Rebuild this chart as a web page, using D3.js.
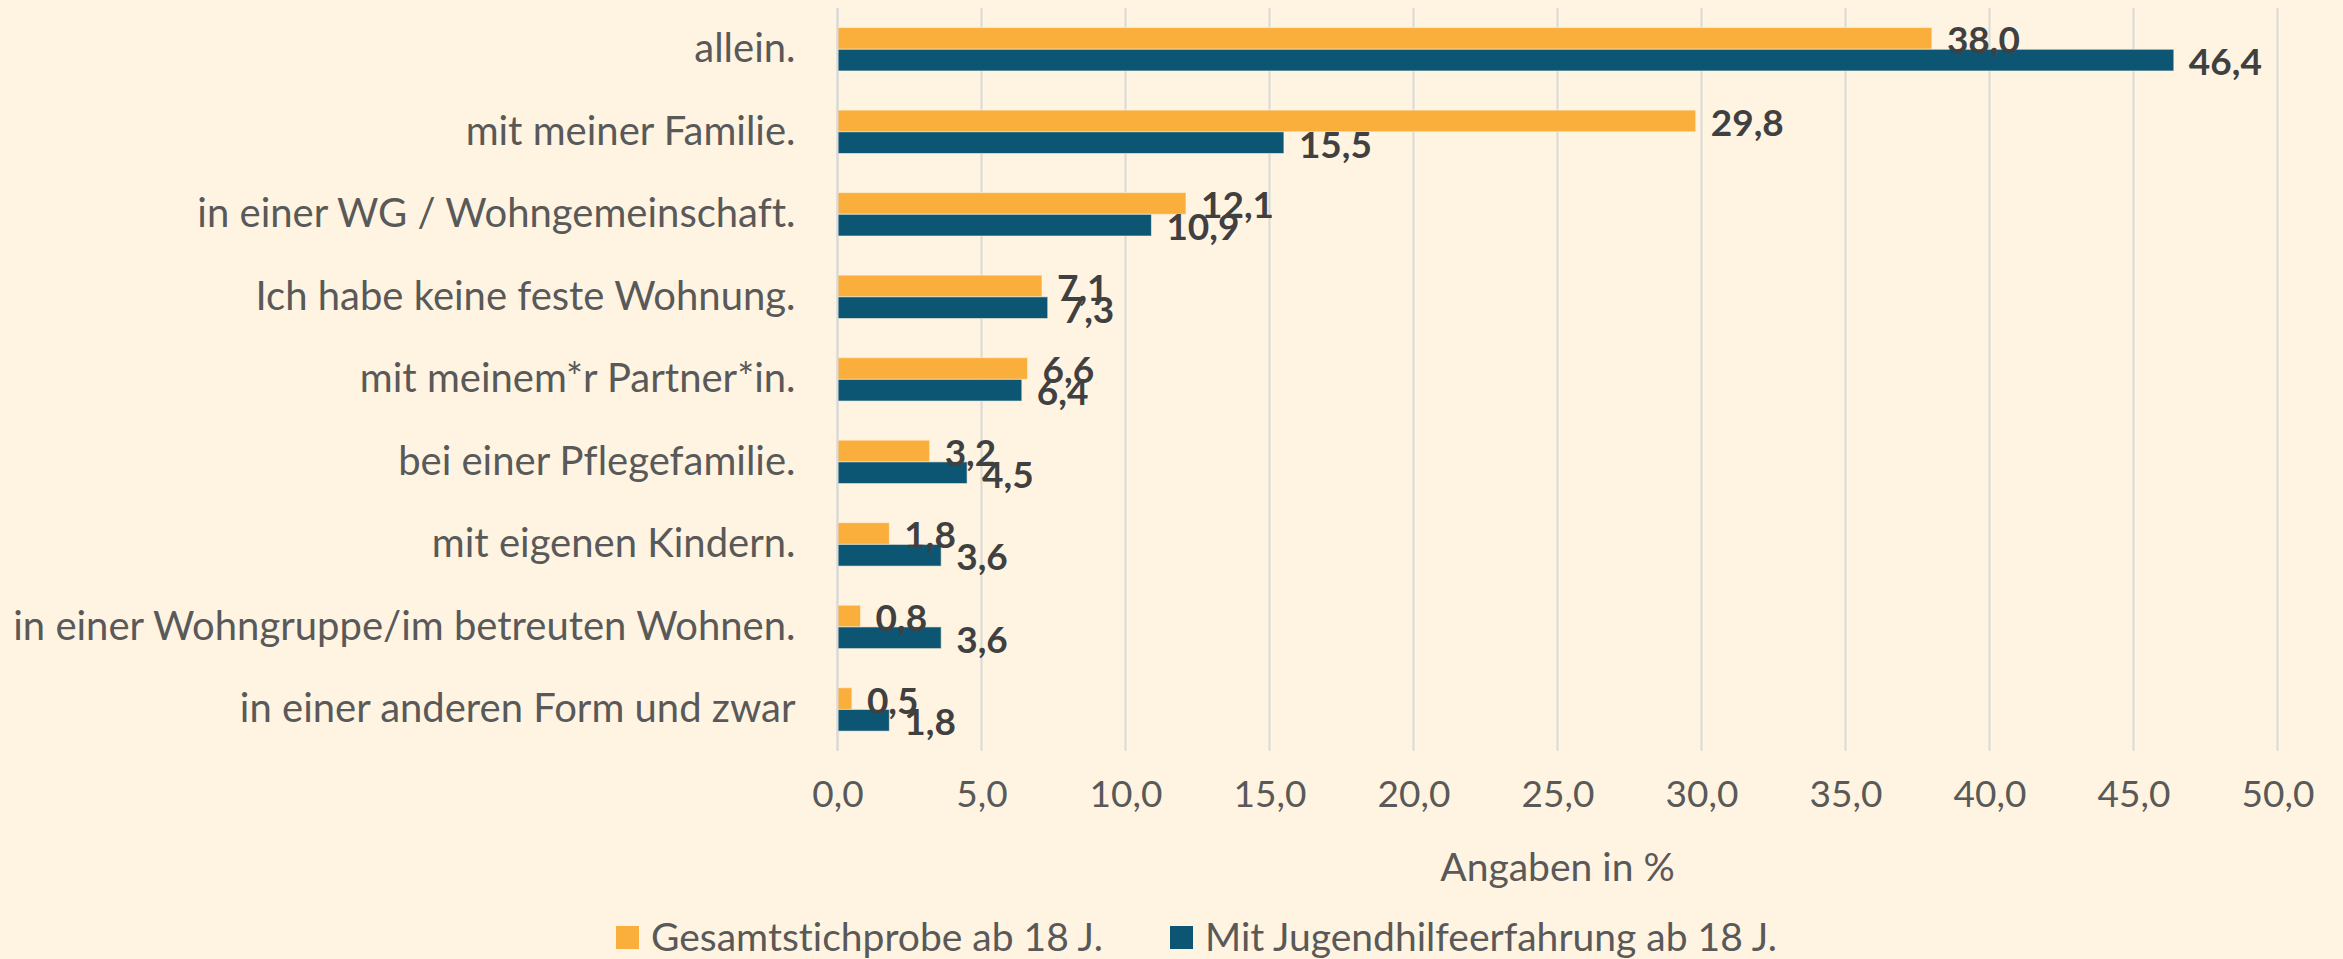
<!DOCTYPE html>
<meta charset="utf-8">
<head>
    <title>Wohnsituation</title>
    <script src="https://d3js.org/d3.v7.min.js"></script>
    <style>
        body { margin: 0; background: #FFF4E1; }
        text { font-family: Lato, "Open Sans", sans-serif; font-variant-ligatures: none; }
    </style>
</head>
<body>
<script>
    // categories top to bottom
    var categories = [
        "allein.",
        "mit meiner Familie.",
        "in einer WG / Wohngemeinschaft.",
        "Ich habe keine feste Wohnung.",
        "mit meinem*r Partner*in.",
        "bei einer Pflegefamilie.",
        "mit eigenen Kindern.",
        "in einer Wohngruppe/im betreuten Wohnen.",
        "in einer anderen Form und zwar"
    ];
    var seriesNames = ["Gesamtstichprobe ab 18 J.", "Mit Jugendhilfeerfahrung ab 18 J."];
    var gesamt = [38.0, 29.8, 12.1, 7.1, 6.6, 3.2, 1.8, 0.8, 0.5];
    var jugendhilfe = [46.4, 15.5, 10.9, 7.3, 6.4, 4.5, 3.6, 3.6, 1.8];
    var xTicks = [0, 5, 10, 15, 20, 25, 30, 35, 40, 45, 50];
    var axisTitle = "Angaben in %";

    var colors = ["#FAAF3D", "#0D5673"];

    var width = 2343,
        height = 959;
    var plotLeft = 837.5, plotRight = 2277.5, plotTop = 8, plotBottom = 750.7;

    var svg = d3.select("body").append("svg")
        .attr("width", width)
        .attr("height", height);

    svg.append("rect").attr("width", width).attr("height", height).attr("fill", "#FFF4E1");

    var x = d3.scaleLinear().domain([0, 50]).range([plotLeft, plotRight]);
    var y = d3.scaleBand().domain(categories).range([plotTop, plotBottom])
        .paddingInner(0.474).paddingOuter(0.237);
    var ySub = d3.scaleBand().domain([0, 1]).range([0, y.bandwidth()]);

    var fmt = function (v) { return d3.format(".1f")(v).replace(".", ","); };

    // gridlines
    svg.append("g")
        .selectAll("line")
        .data(xTicks)
        .enter().append("line")
        .attr("x1", function (d) { return x(d); })
        .attr("x2", function (d) { return x(d); })
        .attr("y1", plotTop)
        .attr("y2", plotBottom)
        .attr("stroke", "#D9D9D9")
        .attr("stroke-width", 2);

    // x tick labels via axis
    var xAxis = svg.append("g")
        .attr("transform", "translate(0," + plotBottom + ")")
        .call(d3.axisBottom(x).tickValues(xTicks).tickFormat(fmt).tickSize(0).tickPadding(30));
    xAxis.select(".domain").remove();
    xAxis.selectAll("text")
        .attr("font-size", 37)
        .attr("fill", "#595959")
        .style("font-family", "Lato, sans-serif");

    // category labels
    var yAxis = svg.append("g")
        .attr("transform", "translate(" + plotLeft + ",0)")
        .call(d3.axisLeft(y).tickSize(0).tickPadding(42));
    yAxis.select(".domain").remove();
    yAxis.selectAll("text")
        .attr("font-size", 40)
        .attr("fill", "#595959")
        .style("font-family", "Lato, sans-serif");

    var series = [gesamt, jugendhilfe];

    series.forEach(function (vals, si) {
        var g = svg.append("g");
        g.selectAll("rect")
            .data(vals)
            .enter().append("rect")
            .attr("x", x(0))
            .attr("y", function (d, i) { return y(categories[i]) + ySub(si); })
            .attr("width", function (d) { return x(d) - x(0); })
            .attr("height", ySub.bandwidth())
            .attr("fill", colors[si])
            .attr("stroke", "#FFF4E1")
            .attr("stroke-opacity", 0.6)
            .attr("stroke-width", 1);
    });

    // data labels drawn after all bars so they sit on top
    series.forEach(function (vals, si) {
        svg.append("g").selectAll("text")
            .data(vals)
            .enter().append("text")
            .attr("x", function (d) { return x(d) + 15; })
            .attr("y", function (d, i) { return y(categories[i]) + ySub(si) + ySub.bandwidth() / 2 + 2; })
            .attr("dy", "0.35em")
            .attr("font-size", 37)
            .attr("font-weight", "bold")
            .attr("fill", "#404040")
            .text(fmt);
    });

    // left axis line
    svg.append("line")
        .attr("x1", plotLeft).attr("x2", plotLeft)
        .attr("y1", plotTop).attr("y2", plotBottom)
        .attr("stroke", "#D9D9D9")
        .attr("stroke-width", 2);

    // axis title
    svg.append("text")
        .attr("x", (plotLeft + plotRight) / 2)
        .attr("y", 867)
        .attr("dy", "0.35em")
        .attr("text-anchor", "middle")
        .attr("font-size", 39)
        .attr("fill", "#595959")
        .text(axisTitle);

    // legend
    var legendX = [616, 1170];
    var legend = svg.append("g");
    seriesNames.forEach(function (name, i) {
        legend.append("rect")
            .attr("x", legendX[i])
            .attr("y", 926)
            .attr("width", 23)
            .attr("height", 23)
            .attr("fill", colors[i]);
        legend.append("text")
            .attr("x", legendX[i] + 35)
            .attr("y", 937)
            .attr("dy", "0.35em")
            .attr("font-size", 39)
            .attr("fill", "#595959")
            .text(name);
    });
</script>
</body>
</html>
